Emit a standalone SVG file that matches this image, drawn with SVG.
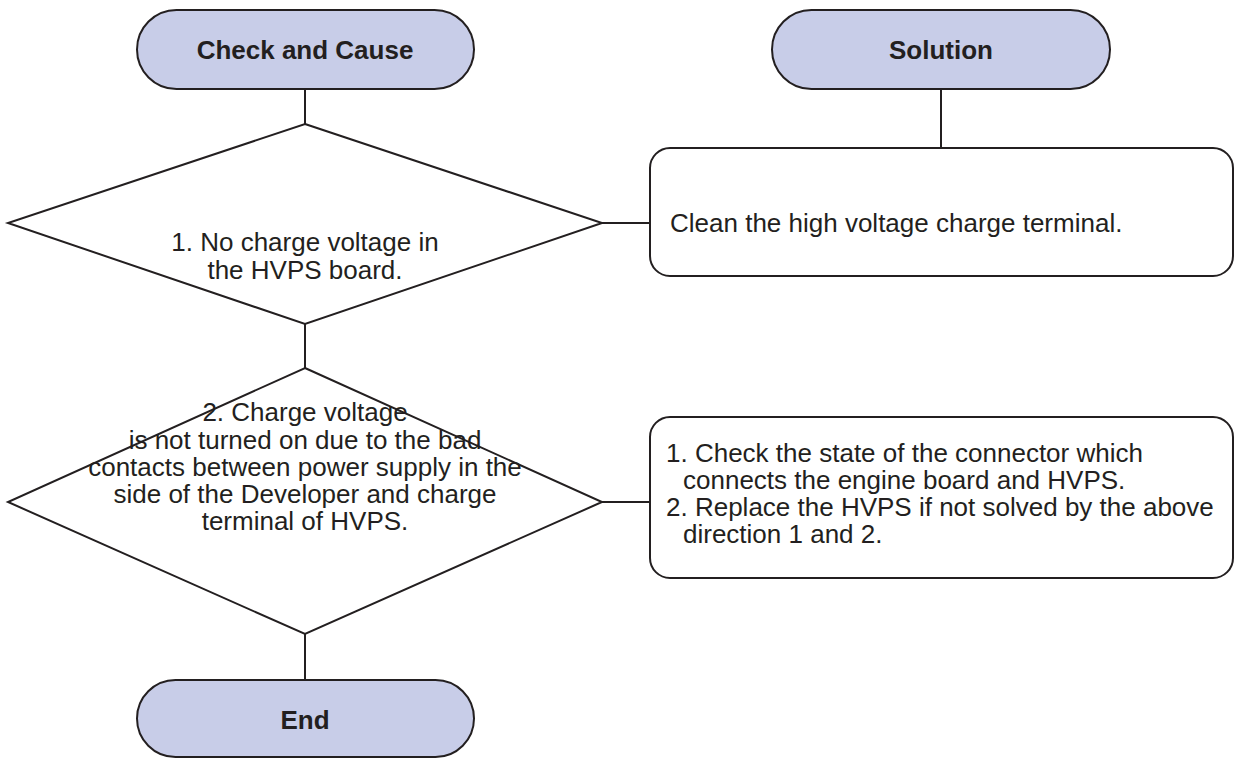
<svg xmlns="http://www.w3.org/2000/svg" width="1234" height="758" viewBox="0 0 1234 758">
<style>
.term{fill:#c8cde8;stroke:#231f20;stroke-width:2}
.shape{fill:#ffffff;stroke:#231f20;stroke-width:2}
.conn{stroke:#231f20;stroke-width:2;fill:none}
text{font-family:"Liberation Sans",Arial,sans-serif;font-size:26px;fill:#231f20}
.b{font-weight:bold}
.c{text-anchor:middle}
</style>
<rect width="1234" height="758" fill="#ffffff"/>
<g id="connectors">
<line class="conn" x1="305" y1="89" x2="305" y2="124"/>
<line class="conn" x1="305" y1="324" x2="305" y2="368"/>
<line class="conn" x1="305" y1="634" x2="305" y2="680"/>
<line class="conn" x1="941" y1="89" x2="941" y2="148"/>
<line class="conn" x1="602" y1="223" x2="650" y2="223"/>
<line class="conn" x1="602" y1="502" x2="650" y2="502"/>
</g>
<g id="check-and-cause">
<rect class="term" x="137" y="10" width="337" height="79" rx="39.5"/>
<text class="b c" x="305" y="59">Check and Cause</text>
</g>
<g id="solution">
<rect class="term" x="772" y="10" width="338" height="79" rx="39.5"/>
<text class="b c" x="941" y="59">Solution</text>
</g>
<g id="cause1">
<polygon class="shape" points="305,124 602,223 305,324 8,223"/>
<text class="c" x="305" y="251">1. No charge voltage in</text>
<text class="c" x="305" y="279">the HVPS board.</text>
</g>
<g id="solution1">
<rect class="shape" x="650" y="148" width="583" height="128" rx="20"/>
<text x="670" y="232">Clean the high voltage charge terminal.</text>
</g>
<g id="cause2">
<polygon class="shape" points="305,368 602,502 305,634 8,502"/>
<text class="c" x="305" y="421">2. Charge voltage</text>
<text class="c" x="305" y="449">is not turned on due to the bad</text>
<text class="c" x="305" y="476">contacts between power supply in the</text>
<text class="c" x="305" y="503">side of the Developer and charge</text>
<text class="c" x="305" y="530">terminal of HVPS.</text>
</g>
<g id="solution2">
<rect class="shape" x="650" y="417" width="583" height="161" rx="20"/>
<text x="666" y="462">1. Check the state of the connector which</text>
<text x="683" y="489">connects the engine board and HVPS.</text>
<text x="666" y="516">2. Replace the HVPS if not solved by the above</text>
<text x="683" y="543">direction 1 and 2.</text>
</g>
<g id="end">
<rect class="term" x="137" y="680" width="337" height="77" rx="38.5"/>
<text class="b c" x="305" y="729">End</text>
</g>
</svg>
